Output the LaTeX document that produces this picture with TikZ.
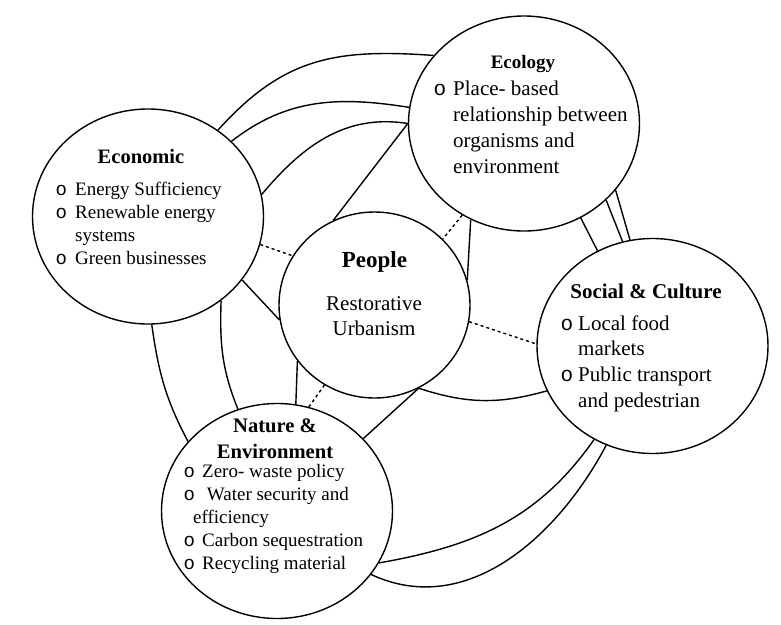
\documentclass[tikz,border=0pt]{standalone}
\usepackage{fontspec}
\setmainfont{Liberation Serif}
\newfontfamily\bulfont{Liberation Mono}
\usetikzlibrary{shapes.geometric}
\newcommand\itm[2][19.5pt]{\makebox[#1][l]{\bulfont o}#2}
\newcommand\cnt[2][19.5pt]{\hspace*{#1}#2}
\begin{document}
\begin{tikzpicture}[x=1pt,y=1pt,
  ring/.style={ellipse,draw,fill=white,line width=1.4pt,inner sep=0pt,minimum width=231pt,minimum height=215pt},
  link/.style={line width=1.4pt},
  dotlink/.style={line width=1.4pt,dash pattern=on 3pt off 3pt},
  ttl/.style={anchor=base,inner sep=0pt},
  lst/.style={anchor=base west,inner sep=0pt}]
\useasboundingbox (0,0) rectangle (781,-624);
% circles
\node[ring] (eco) at (148,-216.5) {};
\node[ring] (ecol) at (524,-123.5) {};
\node[ring,minimum width=191pt,minimum height=186pt] (ppl) at (374.5,-305) {};
\node[ring] (soc) at (652.5,-346) {};
\node[ring] (nat) at (277,-511) {};
% connectors
\draw[link] (eco.51) to[out=48,in=176,looseness=1.1] (ecol.143);
\draw[link] (eco.42) to[out=38,in=171] (ecol.172);
\draw[link] (eco.11) to[out=50,in=171] (ecol.180);
\draw[link] (ecol.180) -- (ppl.116);
\draw[link] (eco.-34) -- (ppl.189);
\draw[dotlink] (eco.-14) -- (ppl.149);
\draw[link] (ppl.216) -- (nat.80.5);
\draw[dotlink] (nat.73) -- (ppl.238);
\draw[link] (ppl.-62) -- (nat.40);
\draw[link] (ppl.-62) to[bend right=17] (soc.203.6);
\draw[link] (ecol.241) -- (ppl.15);
\draw[dotlink] (ecol.236) -- (ppl.44);
\draw[dotlink] (ppl.-10) -- (soc.179.5);
\draw[link] (soc.238) to[out=235,in=10] (nat.-27);
\draw[link] (soc.245) to[out=242,in=-25] (nat.-34);
\draw[link] (ecol.-59) -- (soc.120);
\draw[link] (ecol.-43) -- (soc.106);
\draw[link] (ecol.-36) -- (soc.102);
\draw[link] (eco.-88) to[out=-82,in=118] (nat.142);
\draw[link] (eco.-49) to[out=-92,in=112] (nat.111);
% texts
\node[ttl,font=\bfseries\fontsize{20.5}{24}\selectfont] (ecot) at (141,-163) {Economic};
\node[lst,font=\fontsize{19}{23.3}\selectfont] (ecob) at (55.5,-195) {\begin{tabular}[t]{@{}l@{}}\itm{Energy Sufficiency}\\ \itm{Renewable energy}\\ \cnt{systems}\\ \itm{Green businesses}\end{tabular}};
\node[ttl,font=\bfseries\fontsize{19}{23}\selectfont] (ecolt) at (523,-68) {Ecology};
\node[lst,font=\fontsize{21}{26}\selectfont] (ecolb) at (433.5,-95) {\begin{tabular}[t]{@{}l@{}}\itm{Place- based}\\ \cnt{relationship between}\\ \cnt{organisms and}\\ \cnt{environment}\end{tabular}};
\node[ttl,font=\bfseries\fontsize{23}{26}\selectfont] (pplt) at (374.5,-267) {People};
\node[ttl,font=\fontsize{21}{25}\selectfont] (pplb) at (374,-310) {\begin{tabular}[t]{@{}c@{}}Restorative\\ Urbanism\end{tabular}};
\node[ttl,font=\bfseries\fontsize{21}{25}\selectfont] (soct) at (646,-298) {Social \& Culture};
\node[lst,font=\fontsize{21}{25.7}\selectfont] (socb) at (560.5,-330) {\begin{tabular}[t]{@{}l@{}}\itm[17.5pt]{Local food}\\ \cnt[17.5pt]{markets}\\ \itm[17.5pt]{Public transport}\\ \cnt[17.5pt]{and pedestrian}\end{tabular}};
\node[ttl,font=\bfseries\fontsize{20.6}{26}\selectfont] (natt) at (275,-432) {\begin{tabular}[t]{@{}c@{}}Nature \&\\ Environment\end{tabular}};
\node[lst,font=\fontsize{19}{23}\selectfont] (natb) at (183.5,-477) {\begin{tabular}[t]{@{}l@{}}\itm[18.5pt]{Zero- waste policy}\\ \itm[18.5pt]{ Water security and}\\ \cnt[9.5pt]{efficiency}\\ \itm[18.5pt]{Carbon sequestration}\\ \itm[18.5pt]{Recycling material}\end{tabular}};
\end{tikzpicture}
\end{document}
